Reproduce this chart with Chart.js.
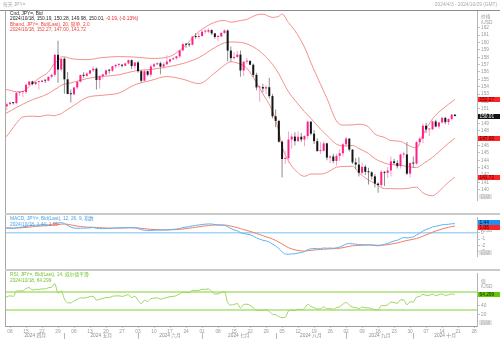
<!DOCTYPE html>
<html>
<head>
<meta charset="utf-8">
<title>JPY= 日线</title>
<script src="https://cdn.jsdelivr.net/npm/chart.js@4.4.1/dist/chart.umd.min.js"></script>
<style>
  html, body { margin: 0; padding: 0; background: #fff; }
  #box { position: relative; width: 500px; height: 340px; overflow: hidden; }
  #box canvas { position: absolute; left: 0; }
  .rule { position: absolute; }
</style>
</head>
<body>
<div id="box">
  <canvas id="price" width="500" height="214" style="top:0"></canvas>
  <canvas id="macd" width="500" height="56" style="top:214px"></canvas>
  <canvas id="rsi" width="500" height="70" style="top:270px"></canvas>
  <div class="rule" style="left:0;top:10px;width:500px;height:1px;background:#8c8c8c"></div>
  <div class="rule" style="left:5px;top:10px;width:1px;height:317px;background:#a8a8a8"></div>
  <div class="rule" style="left:5px;top:213px;width:495px;height:2px;background:#cacaca"></div>
  <div class="rule" style="left:5px;top:269px;width:495px;height:2px;background:#cacaca"></div>
</div>
<script>
// daily bars, x = weekday index (0 = 2024/04/03)
const open = [151.57,151.67,151.33,151.62,151.84,151.76,153.17,153.26,153.27,154.25,
  154.70,154.35,154.64,154.64,154.83,154.82,155.35,155.61,158.33,156.33,
  157.79,155.00,153.00,152.97,153.89,154.67,155.59,155.47,155.78,156.22,
  156.44,154.90,155.40,155.66,156.22,156.18,156.77,156.95,156.98,156.84,
  157.16,157.60,156.80,157.28,156.10,154.80,156.10,155.62,156.75,157.03,
  157.18,156.73,157.04,157.41,157.72,157.86,158.12,158.93,159.78,159.70,
  159.69,160.80,160.75,160.87,161.47,161.47,161.68,161.24,160.75,160.82,
  161.30,161.63,158.90,157.88,158.04,158.35,156.20,157.40,157.48,156.98,
  155.60,153.90,153.95,153.75,153.93,152.72,149.98,149.35,146.53,144.18,
  144.30,146.82,147.22,146.60,147.20,146.82,147.30,149.25,147.62,146.60,
  145.25,145.30,146.30,144.37,144.52,143.90,144.60,144.95,146.17,146.95,
  145.45,143.72,143.42,142.30,143.12,142.43,142.37,141.82,140.83,140.63,
  142.44,142.30,142.62,143.86,143.63,143.21,144.79,144.80,142.19,143.63,
  143.56,146.47,146.95,148.70,148.19,148.21,149.28,148.59,149.14,149.76,
  149.18,149.60,150.19];
const high = [151.80,151.78,151.82,151.93,151.93,153.24,153.32,153.40,154.45,154.78,
  154.80,154.70,154.65,154.86,154.90,155.37,155.74,158.44,160.22,157.84,
  157.99,156.00,153.60,154.00,154.70,155.65,155.95,155.95,156.30,156.75,
  156.60,155.60,155.80,156.30,156.35,156.85,157.10,157.20,157.05,157.25,
  157.70,157.70,157.30,157.50,156.30,156.40,156.20,157.00,157.20,157.30,
  157.40,157.30,158.25,157.80,158.00,158.20,159.00,159.90,159.90,159.90,
  160.85,161.30,161.30,161.70,161.75,161.95,161.80,161.30,161.00,161.40,
  161.80,161.75,159.45,158.70,158.85,158.90,157.40,157.90,157.60,157.15,
  155.90,154.10,154.40,154.20,155.20,153.00,150.90,149.50,146.70,145.30,
  147.90,147.60,147.80,147.90,147.70,147.40,149.40,149.30,148.10,147.00,
  146.50,146.60,146.40,144.70,144.90,144.90,145.50,146.30,147.20,147.00,
  145.50,144.30,144.40,143.70,143.40,143.00,142.50,142.10,141.00,142.70,
  142.50,143.10,144.50,144.20,144.00,144.90,145.20,146.50,143.70,144.50,
  146.60,147.20,149.00,149.10,148.30,149.40,149.50,149.20,149.90,149.90,
  149.70,150.30,150.28];
const low = [151.36,151.03,150.81,151.54,151.58,151.69,152.76,152.60,153.05,154.10,
  154.20,154.20,153.60,154.60,154.50,154.75,155.10,155.33,154.54,156.05,
  153.04,152.99,151.86,152.80,153.60,154.60,155.20,155.30,155.70,156.00,
  153.60,153.75,155.00,155.50,155.80,156.00,156.50,156.70,156.60,156.80,
  157.00,156.40,156.40,155.90,154.55,154.80,155.40,155.30,156.60,156.90,
  155.70,156.40,156.95,157.20,157.60,157.70,157.90,158.80,159.30,159.40,
  159.60,160.50,160.50,160.80,161.20,161.30,161.00,160.50,160.20,160.70,
  161.20,157.44,157.40,157.70,157.90,155.35,155.40,157.10,156.90,155.30,
  153.50,151.94,153.20,153.00,152.40,149.70,148.50,146.40,141.68,143.50,
  143.70,145.60,146.00,146.50,146.50,145.90,146.90,147.40,146.20,145.20,
  144.90,145.20,144.00,143.60,143.60,143.30,143.90,144.50,145.80,145.20,
  143.50,142.80,141.80,142.10,142.00,140.70,141.40,140.30,139.58,140.40,
  140.50,141.60,141.80,143.40,142.90,142.90,144.30,142.00,141.65,143.00,
  143.40,146.00,146.30,147.70,147.30,148.10,148.50,148.30,149.00,148.90,
  148.80,149.40,149.98];
const close = [151.67,151.33,151.62,151.84,151.76,153.17,153.26,153.27,154.25,154.70,
  154.35,154.64,154.64,154.83,154.82,155.35,155.61,158.33,156.33,157.79,
  155.00,153.00,152.97,153.89,154.67,155.59,155.47,155.78,156.22,156.44,
  154.90,155.40,155.66,156.22,156.18,156.77,156.95,156.98,156.84,157.16,
  157.60,156.80,157.28,156.10,154.80,156.10,155.62,156.75,157.03,157.18,
  156.73,157.04,157.41,157.72,157.86,158.12,158.93,159.78,159.70,159.69,
  160.80,160.75,160.87,161.47,161.47,161.68,161.24,160.75,160.82,161.30,
  161.63,158.90,157.88,158.04,158.35,156.20,157.40,157.48,156.98,155.60,
  153.90,153.95,153.75,153.93,152.72,149.98,149.35,146.53,144.18,144.30,
  146.82,147.22,146.60,147.20,146.82,147.30,149.25,147.62,146.60,145.25,
  145.30,146.30,144.37,144.52,143.90,144.60,144.95,146.17,146.95,145.45,
  143.72,143.42,142.30,143.12,142.43,142.37,141.82,140.83,140.63,142.44,
  142.30,142.62,143.86,143.63,143.21,144.79,144.80,142.19,143.63,143.56,
  146.47,146.95,148.70,148.19,148.21,149.28,148.59,149.14,149.76,149.18,
  149.60,150.20,150.01];

// Bollinger 20 / 2.0, sampled
const bbIdx = [0,2,5,7,10,12,15,17,18,19,20,22,27,32,37,42,47,52,57,62,
  67,70,72,75,77,80,82,85,87,88,90,92,95,97,100,102,105,107,110,112,
  115,117,120,122,125,127,130,132,135,137,140,142];
const bbUpper = [153.56,153.59,153.31,153.36,154.45,155.13,155.99,157.22,157.52,158.05,
  158.05,157.82,157.67,157.96,158.08,158.02,157.84,157.98,159.27,161.48,
  162.75,162.98,162.76,162.98,163.14,163.74,163.85,163.41,163.57,163.86,
  162.71,161.61,159.37,157.26,154.34,152.43,149.34,148.78,148.81,148.90,
  148.54,147.56,147.11,146.68,146.58,146.12,145.68,147.45,149.62,150.55,
  151.60,152.27];
const bbMid = [150.05,150.44,151.16,151.62,152.22,152.53,153.07,153.63,153.87,154.18,
  154.34,154.50,155.10,155.40,155.61,156.14,156.34,156.68,157.14,157.95,
  159.31,159.95,160.07,160.01,159.82,159.14,158.44,157.04,155.74,154.90,
  153.31,152.17,150.60,149.70,148.23,147.38,146.20,145.96,146.01,145.60,
  144.93,144.22,143.63,143.42,143.35,143.15,143.02,143.52,144.41,145.16,
  146.32,147.00];
const bbLower = [146.53,147.29,149.02,149.88,149.99,149.94,150.15,150.04,150.21,150.31,
  150.64,151.17,152.53,152.84,153.13,154.26,154.84,155.37,155.01,154.42,
  155.88,156.92,157.38,157.05,156.50,154.54,153.03,150.67,147.90,145.95,
  143.91,142.72,141.83,142.14,142.13,142.34,143.06,143.15,143.20,142.30,
  141.32,140.88,140.15,140.16,140.12,140.17,140.36,139.58,139.19,139.77,
  141.04,141.72];

// MACD 12/26/9
const macdLine = [0.79,0.75,0.73,0.72,0.70,0.79,0.86,0.90,1.01,1.11,
  1.15,1.20,1.22,1.24,1.23,1.26,1.29,1.51,1.51,1.61,
  1.44,1.14,0.89,0.75,0.70,0.72,0.72,0.74,0.78,0.82,
  0.72,0.67,0.65,0.67,0.67,0.71,0.75,0.78,0.78,0.79,
  0.83,0.79,0.78,0.68,0.48,0.43,0.34,0.36,0.40,0.43,
  0.41,0.42,0.45,0.50,0.54,0.58,0.68,0.81,0.90,0.96,
  1.08,1.16,1.22,1.30,1.35,1.39,1.37,1.30,1.23,1.21,
  1.18,0.94,0.67,0.45,0.31,0.02,-0.11,-0.21,-0.32,-0.52,
  -0.80,-1.00,-1.17,-1.28,-1.44,-1.77,-2.06,-2.49,-2.98,-3.33,
  -3.36,-3.31,-3.29,-3.18,-3.10,-2.95,-2.65,-2.52,-2.46,-2.50,
  -2.49,-2.38,-2.42,-2.40,-2.42,-2.35,-2.24,-2.03,-1.78,-1.69,
  -1.73,-1.77,-1.87,-1.86,-1.88,-1.89,-1.92,-1.99,-2.05,-1.92,
  -1.81,-1.68,-1.46,-1.29,-1.17,-0.94,-0.75,-0.80,-0.72,-0.65,
  -0.35,-0.08,0.27,0.51,0.69,0.90,1.01,1.12,1.25,1.29,
  1.34,1.41,1.44];
const signalLine = [0.76,0.76,0.75,0.75,0.74,0.75,0.77,0.80,0.84,0.89,
  0.94,1.00,1.04,1.08,1.11,1.14,1.17,1.24,1.29,1.36,
  1.37,1.33,1.24,1.14,1.05,0.99,0.93,0.89,0.87,0.86,
  0.83,0.80,0.77,0.75,0.73,0.73,0.73,0.74,0.75,0.76,
  0.77,0.78,0.78,0.76,0.70,0.65,0.59,0.54,0.51,0.50,
  0.48,0.47,0.46,0.47,0.49,0.50,0.54,0.59,0.66,0.72,
  0.79,0.86,0.93,1.01,1.08,1.14,1.19,1.21,1.21,1.21,
  1.21,1.15,1.06,0.94,0.81,0.65,0.50,0.36,0.22,0.07,
  -0.10,-0.28,-0.46,-0.62,-0.79,-0.98,-1.20,-1.46,-1.76,-2.08,
  -2.33,-2.53,-2.68,-2.78,-2.84,-2.87,-2.82,-2.76,-2.70,-2.66,
  -2.63,-2.58,-2.55,-2.52,-2.50,-2.47,-2.42,-2.34,-2.23,-2.12,
  -2.04,-1.99,-1.97,-1.94,-1.93,-1.92,-1.92,-1.94,-1.96,-1.95,
  -1.92,-1.87,-1.79,-1.69,-1.59,-1.46,-1.32,-1.21,-1.11,-1.02,
  -0.89,-0.73,-0.53,-0.32,-0.12,0.09,0.27,0.44,0.60,0.74,
  0.86,0.97,1.06];

// RSI 14, Wilder
const rsiLine = [61.0,55.9,59.1,61.3,60.0,71.5,72.0,72.1,77.5,79.5,
  74.1,75.6,75.6,76.6,76.4,79.2,80.5,88.3,67.0,72.3,
  54.4,45.7,45.6,49.9,53.2,56.9,56.3,57.5,59.4,60.3,
  51.5,53.8,55.1,57.7,57.4,60.2,61.0,61.2,60.0,61.8,
  64.1,57.3,60.1,51.3,43.7,51.4,48.8,54.7,56.1,56.8,
  53.9,55.6,57.6,59.3,60.0,61.5,65.7,69.4,68.7,68.6,
  73.3,72.8,73.3,75.7,75.7,76.5,70.9,65.2,65.6,68.5,
  70.3,46.3,40.7,41.9,44.2,34.1,42.1,42.6,40.2,34.6,
  29.1,29.5,28.9,30.3,26.5,20.3,19.2,15.2,12.8,13.5,
  27.6,29.6,28.3,31.4,30.5,33.1,42.5,37.8,35.1,31.9,
  32.1,37.0,32.2,32.9,31.4,35.1,36.9,42.8,46.3,41.1,
  36.1,35.3,32.4,36.5,34.6,34.4,32.8,30.1,29.6,39.9,
  39.4,41.1,47.4,46.4,44.6,52.2,52.3,41.4,47.8,47.6,
  58.3,59.7,64.6,62.3,62.3,65.4,61.9,63.6,65.4,62.2,
  63.6,65.5,64.299];
const rsiLevels = [70, 30];

const priceTicks = [140,141,142,143,144,145,146,147,148,149,150,151,152,153,154,155,156,157,158,159,160,161,162];
const macdTicks = [-3, -2, -1, 0];
const rsiTicks = [20, 40];

const mondayIdx = [3,8,13,18,23,28,33,38,43,48,53,58,63,68,73,78,83,88,93,98,103,108,113,118,123,128,133,138,143,148];
const mondayLabels = ['08','15','22','29','06','13','20','27','03','10','17','24','01','08','15','22','29','05','12','19','26','02','09','16','23','30','07','14','21','28'];
const monthNames = ['2024 四月','2024 五月','2024 六月','2024 七月','2024 八月','2024 九月','2024 十月'];
const monthStart = [0, 20, 43, 63, 86, 108, 129];
const lastDate = '2024/10/18';

const FONT = '"Liberation Sans", "Noto Sans CJK SC", sans-serif';
const FS = 4.8;
const XMIN = 1.75, XMAX = 148.9;
const UP = '#ff1f8c', DOWN = '#151515';
const BAND = '#f3908a';
const last = close.length - 1;

function xScale(show) {
  return {
    type: 'linear', min: XMIN, max: XMAX, offset: false, display: show,
    afterBuildTicks: s => { s.ticks = mondayIdx.map(v => ({ value: v })); },
    afterFit: s => { s.height = 14; },
    grid: { drawOnChartArea: false, tickLength: 2, color: '#c8c8c8' },
    border: { color: '#9c9c9c' },
    ticks: {
      font: { size: FS, family: FONT }, color: '#9a9a9a', padding: 1,
      maxRotation: 0, autoSkip: false,
      callback: v => mondayLabels[mondayIdx.indexOf(v)] || ''
    }
  };
}

function yScale(min, max, ticks) {
  return {
    position: 'right', min, max,
    afterFit: s => { s.width = 23; },
    afterBuildTicks: s => { s.ticks = ticks.map(v => ({ value: v })); },
    grid: { drawOnChartArea: false, tickLength: 3, color: '#c4c4c4' },
    border: { color: '#b4b4b4' },
    ticks: { font: { size: FS, family: FONT }, color: '#9a9a9a', padding: 1, autoSkip: false, callback: v => String(v) }
  };
}

function pts(xs, ys) { return xs.map((x, k) => ({ x, y: ys[k] })); }
const dayIdx = close.map((_, i) => i);

function lineSet(data, color, width, order) {
  return { type: 'line', data, borderColor: color, borderWidth: width, pointRadius: 0,
           cubicInterpolationMode: 'monotone', order };
}

function runs(ctx, x, y, parts) {
  ctx.textAlign = 'left';
  for (const [s, c] of parts) {
    ctx.fillStyle = c;
    ctx.fillText(s, x, y);
    x += ctx.measureText(s).width;
  }
}

function tag(ctx, chart, y, text, bg, fg) {
  const x = chart.chartArea.right + 1;
  ctx.fillStyle = bg;
  ctx.fillRect(x, Math.round(y - 2.5), chart.width - x, 5);
  ctx.fillStyle = fg;
  ctx.textAlign = 'left';
  ctx.fillText(text, x + 1.5, y + 0.3);
}

function autoBox(ctx, chart) {
  const a = chart.chartArea;
  ctx.fillStyle = '#e4e4e4';
  ctx.fillRect(a.right + 2, a.bottom - 6, 13, 5);
  ctx.fillStyle = '#aaaaaa';
  ctx.textAlign = 'left';
  ctx.fillText('自动', a.right + 3.5, a.bottom - 3.4);
}

// keeps stacked value tags from overlapping
function spread(list, gap) {
  list.sort((a, b) => a.y - b.y);
  for (let k = 1; k < list.length; k++) {
    if (list[k].y - list[k - 1].y < gap) {
      const mid = (list[k].y + list[k - 1].y) / 2;
      list[k - 1].y = mid - gap / 2;
      list[k].y = mid + gap / 2;
    }
  }
  return list;
}

function hLines(values, color, width) {
  return {
    id: 'hlines',
    beforeDatasetsDraw(chart) {
      const { ctx, chartArea: a } = chart;
      const y = chart.scales.y;
      ctx.save();
      ctx.strokeStyle = color;
      ctx.lineWidth = width;
      values.forEach(v => {
        const py = y.getPixelForValue(v);
        ctx.beginPath(); ctx.moveTo(a.left, py); ctx.lineTo(a.right, py); ctx.stroke();
      });
      ctx.restore();
    }
  };
}

const fmt = v => v.toFixed(2);
const chg = close[last] - close[last - 1];

const priceText = {
  id: 'priceText',
  afterDraw(chart) {
    const ctx = chart.ctx, y = chart.scales.y;
    ctx.save();
    ctx.font = FS + 'px ' + FONT;
    ctx.textBaseline = 'middle';
    runs(ctx, 3, 5, [['每天 JPY=', '#a9a9a9']]);
    ctx.fillStyle = '#a9a9a9'; ctx.textAlign = 'right';
    ctx.fillText('2024/4/3 - 2024/10/29 (GMT)', 497, 5);

    runs(ctx, 10, 13.6, [['Cnd, JPY=, Bid', '#222']]);
    runs(ctx, 10, 19, [
      [lastDate + ', ' + [open[last], high[last], low[last], close[last]].map(fmt).join(', ') + ', ', '#222'],
      [fmt(chg) + ', (' + (chg / close[last - 1] * 100).toFixed(2) + '%)', '#e8202a']
    ]);
    runs(ctx, 10, 24.4, [['Bband, JPY=, Bid(Last), 20, 简单, 2.0', '#e8453c']]);
    runs(ctx, 10, 29.8, [[lastDate + ', ' + [bbUpper, bbMid, bbLower].map(a => fmt(a[a.length - 1])).join(', '), '#e8453c']]);

    ctx.fillStyle = '#999'; ctx.textAlign = 'left';
    ctx.fillText('价格', 481, 17);
    ctx.fillText('/USD', 481, 23);

    const n = bbUpper.length - 1;
    tag(ctx, chart, y.getPixelForValue(bbUpper[n]), fmt(bbUpper[n]), '#ff2323', '#3d0000');
    tag(ctx, chart, y.getPixelForValue(close[last]), fmt(close[last]), '#141414', '#ffffff');
    tag(ctx, chart, y.getPixelForValue(bbMid[n]), fmt(bbMid[n]), '#ff2323', '#3d0000');
    tag(ctx, chart, y.getPixelForValue(bbLower[n]), fmt(bbLower[n]), '#ff2323', '#3d0000');
    autoBox(ctx, chart);
    ctx.restore();
  }
};

const macdText = {
  id: 'macdText',
  afterDraw(chart) {
    const ctx = chart.ctx, y = chart.scales.y;
    ctx.save();
    ctx.font = FS + 'px ' + FONT;
    ctx.textBaseline = 'middle';
    runs(ctx, 10, 5, [['MACD, JPY=, Bid(Last), 12, 26, 9, 指数', '#4aa2e0']]);
    runs(ctx, 10, 11, [[lastDate + ', ' + fmt(macdLine[last]) + ', ', '#4aa2e0'], [fmt(signalLine[last]), '#ee5a48']]);
    ctx.fillStyle = '#999'; ctx.textAlign = 'left';
    ctx.fillText('/USD', 481, 17);
    const tags = spread([
      { y: y.getPixelForValue(macdLine[last]), t: fmt(macdLine[last]), bg: '#1f8ff0', fg: '#00152b' },
      { y: y.getPixelForValue(signalLine[last]), t: fmt(signalLine[last]), bg: '#ff2323', fg: '#3d0000' }
    ], 4.4);
    tags.forEach(g => tag(ctx, chart, g.y, g.t, g.bg, g.fg));
    autoBox(ctx, chart);
    ctx.restore();
  }
};

const rsiText = {
  id: 'rsiText',
  afterDraw(chart) {
    const ctx = chart.ctx, y = chart.scales.y, x = chart.scales.x;
    ctx.save();
    ctx.font = FS + 'px ' + FONT;
    ctx.textBaseline = 'middle';
    runs(ctx, 10, 5, [['RSI, JPY=, Bid(Last), 14, 威尔德平滑', '#74c22c']]);
    runs(ctx, 10, 10.4, [[lastDate + ', ' + rsiLine[last].toFixed(3), '#74c22c']]);
    ctx.fillStyle = '#999'; ctx.textAlign = 'left';
    ctx.fillText('值', 481, 12);
    ctx.fillText('/USD', 481, 16.5);
    tag(ctx, chart, y.getPixelForValue(rsiLine[last]), rsiLine[last].toFixed(3), '#62c800', '#0e2600');
    autoBox(ctx, chart);

    // month row under the day labels
    ctx.fillStyle = '#8a8a8a';
    ctx.strokeStyle = '#b8b8b8';
    ctx.lineWidth = 1;
    ctx.textAlign = 'center';
    monthNames.forEach((m, k) => {
      const a = Math.max(monthStart[k], XMIN);
      const b = Math.min(k + 1 < monthStart.length ? monthStart[k + 1] : XMAX, XMAX);
      const cx = (x.getPixelForValue(a) + x.getPixelForValue(b)) / 2;
      ctx.fillText(m, cx, 66);
      if (monthStart[k] > XMIN) {
        const px = Math.round(x.getPixelForValue(monthStart[k])) + 0.5;
        ctx.beginPath(); ctx.moveTo(px, 63); ctx.lineTo(px, 69); ctx.stroke();
      }
    });
    ctx.restore();
  }
};

const base = {
  responsive: false,
  animation: false,
  devicePixelRatio: 1,
  plugins: { legend: { display: false }, tooltip: { enabled: false } }
};

const isUp = i => close[i] >= open[i];

new Chart(document.getElementById('price'), {
  type: 'bar',
  data: {
    datasets: [
      lineSet(pts(bbIdx, bbUpper), BAND, 1, 3),
      lineSet(pts(bbIdx, bbMid), BAND, 1, 3),
      lineSet(pts(bbIdx, bbLower), BAND, 1, 3),
      {
        type: 'bar', order: 2, grouped: false, barThickness: 1, inflateAmount: 0,
        data: dayIdx.map(i => ({ x: i, y: [low[i], high[i]] })),
        backgroundColor: c => isUp(c.dataIndex) ? '#f7a4c6' : '#8e8e8e'
      },
      {
        type: 'bar', order: 1, grouped: false, barThickness: 2, minBarLength: 1, inflateAmount: 0,
        data: dayIdx.map(i => ({ x: i, y: [open[i], close[i]] })),
        backgroundColor: c => isUp(c.dataIndex) ? UP : DOWN
      }
    ]
  },
  options: Object.assign({}, base, {
    layout: { padding: { top: 11, left: 6, right: 0, bottom: 0 } },
    scales: { x: xScale(false), y: yScale(138.609, 164.276, priceTicks) }
  }),
  plugins: [priceText]
});

new Chart(document.getElementById('macd'), {
  type: 'line',
  data: {
    datasets: [
      lineSet(pts(dayIdx, signalLine), '#f27a66', 1, 2),
      lineSet(pts(dayIdx, macdLine), '#5cb4f0', 1, 1)
    ]
  },
  options: Object.assign({}, base, {
    layout: { padding: { top: 1, left: 6, right: 0, bottom: 0 } },
    scales: { x: xScale(false), y: yScale(-3.641, 2.337, macdTicks) }
  }),
  plugins: [hLines([0], '#a5d5f6', 1.5), macdText]
});

new Chart(document.getElementById('rsi'), {
  type: 'line',
  data: { datasets: [lineSet(pts(dayIdx, rsiLine), '#9ed35e', 1, 1)] },
  options: Object.assign({}, base, {
    layout: { padding: { top: 1, left: 6, right: 0, bottom: 0 } },
    scales: { x: xScale(true), y: yScale(-5.79, 110, rsiTicks) }
  }),
  plugins: [hLines(rsiLevels, '#addf76', 1.5), rsiText]
});
</script>
</body>
</html>
